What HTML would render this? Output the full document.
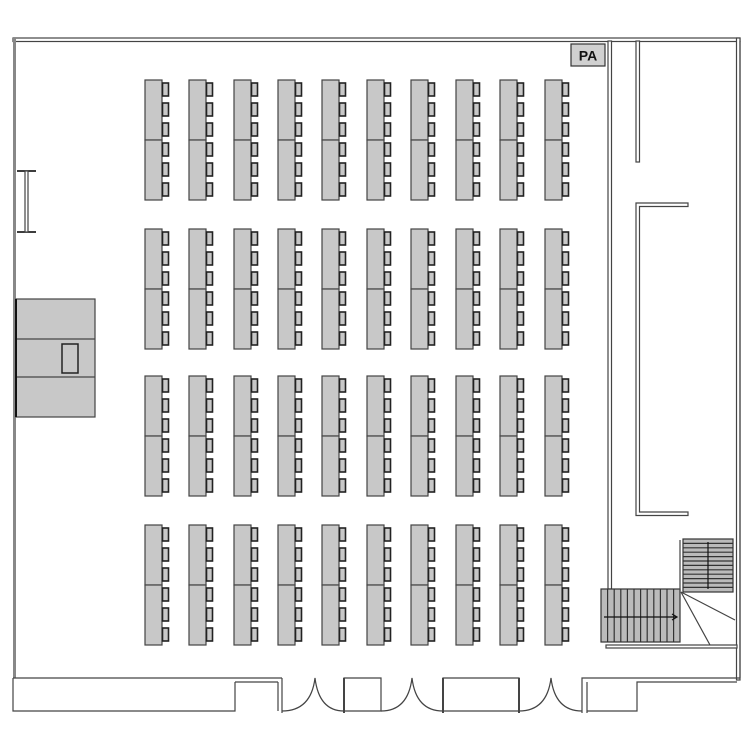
<!DOCTYPE html>
<html><head><meta charset="utf-8"><style>html,body{margin:0;padding:0;background:#fff}svg{display:block}</style></head>
<body>
<svg id="s" width="750" height="750" viewBox="0 0 750 750" xmlns="http://www.w3.org/2000/svg">
<g fill="none" stroke="#444" stroke-width="1.2">
<rect x="13" y="38" width="727" height="3.5" fill="#fff"/>
<rect x="13" y="38" width="3" height="640" fill="#888" stroke="none"/>
<rect x="736.5" y="38" width="3.5" height="642" fill="#fff"/>
<rect x="608" y="41" width="3.5" height="548" fill="#fff"/>
<rect x="636" y="41" width="3.5" height="121" fill="#fff"/>
<path d="M636 203 L688 203 L688 206.5 L639.5 206.5 L639.5 512 L688 512 L688 515.5 L636 515.5 Z" fill="#fff"/>
<rect x="606" y="645" width="131" height="3" fill="#fff"/>
<path d="M17 171 H36 M17 232 H36" stroke="#222" stroke-width="1.8"/>
<rect x="25" y="171" width="3" height="61" fill="#fff"/>
<rect x="16" y="299" width="79" height="118" fill="#c8c8c8"/>
<path d="M16 339 H95 M16 377 H95"/>
<rect x="62" y="344" width="16" height="29" fill="#c8c8c8" stroke="#222" stroke-width="1.5"/>
<path d="M16 299 V417" stroke="#111" stroke-width="2"/>
<rect x="571" y="44" width="34" height="22" fill="#d0d0d0" stroke="#333"/>
<text x="588" y="60.5" font-family="Liberation Sans, sans-serif" font-weight="bold" font-size="14" fill="#111" text-anchor="middle" stroke="none">PA</text>
<rect x="601" y="589" width="79" height="53" fill="#bbb" stroke="#333"/>
<g id="vst" stroke="#333"></g>
<path d="M604 617 H676" stroke="#111"/>
<path d="M672 614 L677 617 L672 620" stroke="#111"/>
<rect x="683" y="539" width="50" height="53" fill="#bbb" stroke="#333"/>
<g id="hst" stroke="#333"></g>
<path d="M708 542 V589" stroke="#111"/>
<path d="M680 540 V592 M681 592 L735 620 M681 592 L710 645"/>
<!-- bottom -->
<path d="M13 678 H282 M235 682 H278 M13 678 V711 H235 V682 M278 682 V711 M282 678 V713"/>
<path d="M282 711 Q311 711 315 678 Q319 711 344 711"/>
<path d="M344 678 H381 V711 H344 Z"/>
<path d="M344 678 V713" stroke-width="2"/>
<path d="M381 711 Q408 711 412 678 Q416 711 443 711"/>
<path d="M443 678 H519 V711 H443 Z"/>
<path d="M443 678 V713 M519 678 V713" stroke-width="2"/>
<path d="M519 711 Q547 711 551 678 Q555 711 582 711"/>
<path d="M582 713 V678 H740 M587 713 V682 M587 711 H637 V682 H737 M740 41 V678"/>
</g>
<g id="desks"></g>
</svg>
<script>
var NS="http://www.w3.org/2000/svg";
function el(p,t,a){var e=document.createElementNS(NS,t);for(var k in a)e.setAttribute(k,a[k]);p.appendChild(e);return e;}
var d=document.getElementById("desks");
var xs=[145,189,234,278,322,367,411,456,500,545],ys=[80,229,376,525];
xs.forEach(function(x){ys.forEach(function(y){
 for(var h=0;h<2;h++){var yy=y+h*60;
  el(d,"rect",{x:x,y:yy,width:17,height:60,fill:"#c8c8c8",stroke:"#444","stroke-width":"1.2"});
  for(var c=0;c<3;c++){el(d,"rect",{x:x+17.5,y:yy+3+c*20,width:6,height:13,fill:"#c8c8c8",stroke:"#222","stroke-width":"1.6"});}
 }
});});
var v=document.getElementById("vst");for(var i=1;i<12;i++){var X=601+i*6.6;el(v,"line",{x1:X,y1:589,x2:X,y2:642});}
var hh=document.getElementById("hst");for(var i=1;i<12;i++){var Y=539+i*4.4;el(hh,"line",{x1:683,y1:Y,x2:733,y2:Y});}
</script>
</body></html>
